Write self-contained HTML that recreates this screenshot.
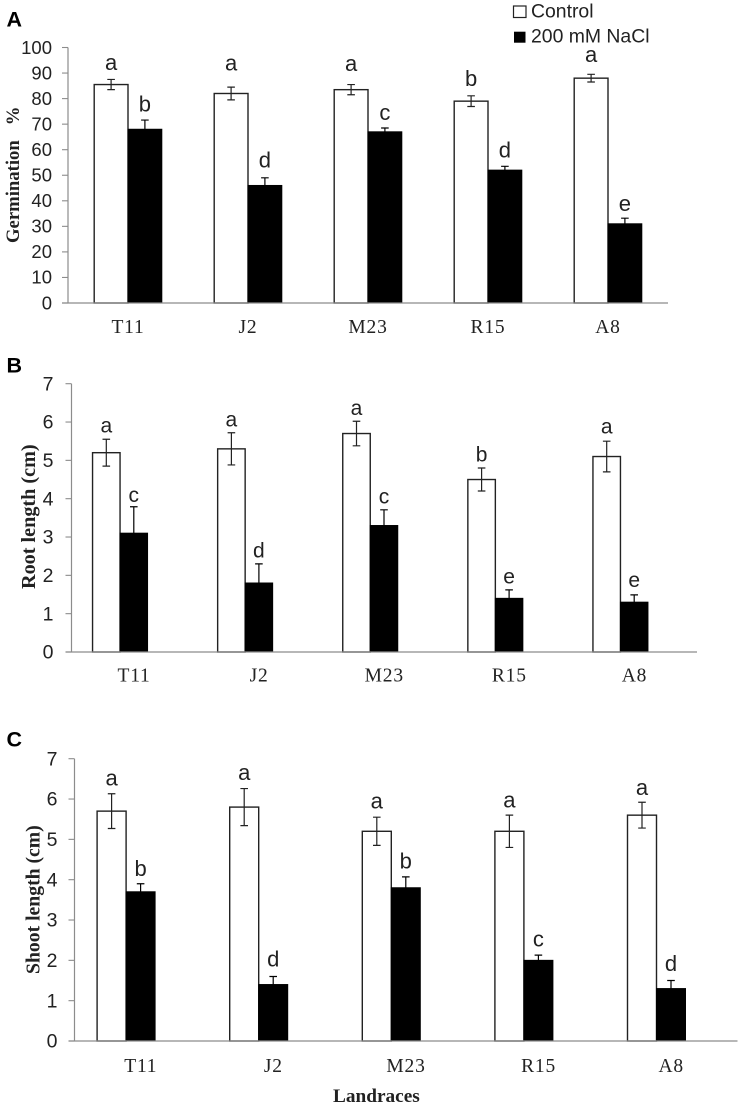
<!DOCTYPE html>
<html lang="en">
<head>
<meta charset="utf-8">
<title>Germination, root length and shoot length by landrace</title>
<style>
  html, body { margin: 0; padding: 0; background: #fff; }
  #figure { display: block; width: 743px; height: 1109px; filter: blur(0.3px); }
  .tick { font-family: "Liberation Sans", sans-serif; fill: #222; }
  .cat { font-family: "Liberation Serif", serif; fill: #222; text-anchor: middle; letter-spacing: .8px; }
  .title { font-family: "Liberation Serif", serif; font-weight: bold; fill: #222; }
  .letter { font-family: "Liberation Sans", sans-serif; fill: #222; text-anchor: middle; }
  .panel { font-family: "Liberation Sans", sans-serif; font-weight: bold; font-size: 21.5px; fill: #000; }
  .legend { font-family: "Liberation Sans", sans-serif; font-size: 19.4px; fill: #222; }
</style>
</head>
<body>
<svg id="figure" xmlns="http://www.w3.org/2000/svg" width="743" height="1109" viewBox="0 0 743 1109">
  <rect width="743" height="1109" fill="#fff"/>

  <text class="panel" x="6.5" y="26.7">A</text>
  <text class="panel" x="6.5" y="372.7">B</text>
  <text class="panel" x="6.5" y="746.7">C</text>

  <g>
    <rect x="513.5" y="6" width="12.5" height="11.5" fill="#fff" stroke="#222" stroke-width="1.2"/>
    <text class="legend" x="531" y="17.7">Control</text>
    <rect x="514" y="31.7" width="11.5" height="11" fill="#000"/>
    <text class="legend" x="531" y="42.7">200 mM NaCl</text>
  </g>

  <text class="title" font-size="18.7" transform="translate(19,243) rotate(-90)">Germination<tspan dx="15">%</tspan></text>
  <text class="title" font-size="20.2" transform="translate(35,589) rotate(-90)">Root length (cm)</text>
  <text class="title" font-size="19.7" transform="translate(39.5,974) rotate(-90)">Shoot length (cm)</text>
  <text class="title" font-size="19.3" x="333" y="1102">Landraces</text>

  <g id="charts"></g>
</svg>

<script>
// Shared categories
const categories = ["T11", "J2", "M23", "R15", "A8"];

// Panel A: germination %
const ticksA = [0, 10, 20, 30, 40, 50, 60, 70, 80, 90, 100];
const controlA = [85.5, 82, 83.5, 79, 88];
const controlErrA = [2, 2.5, 2, 2.1, 1.5];
const naclA = [68, 46, 67, 52, 31];
const naclErrA = [3.6, 3, 1.5, 1.5, 2.2];
const controlLettersA = ["a", "a", "a", "b", "a"];
const naclLettersA = ["b", "d", "c", "d", "e"];
const controlLetterLevelA = [91.2, 91, 90.8, 84.9, 94.3];
const naclLetterLevelA = [74.9, 53, 71.6, 56.9, 36.1];

// Panel B: root length (cm)
const ticksB = [0, 1, 2, 3, 4, 5, 6, 7];
const controlB = [5.2, 5.3, 5.7, 4.5, 5.1];
const controlErrB = [0.35, 0.42, 0.32, 0.3, 0.4];
const naclB = [3.1, 1.8, 3.3, 1.4, 1.3];
const naclErrB = [0.69, 0.5, 0.41, 0.22, 0.19];
const controlLettersB = ["a", "a", "a", "b", "a"];
const naclLettersB = ["c", "d", "c", "e", "e"];
const controlLetterLevelB = [5.73, 5.88, 6.18, 4.97, 5.7];
const naclLetterLevelB = [3.91, 2.47, 3.88, 1.79, 1.7];

// Panel C: shoot length (cm)
const ticksC = [0, 1, 2, 3, 4, 5, 6, 7];
const controlC = [5.7, 5.8, 5.2, 5.2, 5.6];
const controlErrC = [0.43, 0.46, 0.35, 0.4, 0.32];
const naclC = [3.7, 1.4, 3.8, 2.0, 1.3];
const naclErrC = [0.2, 0.2, 0.27, 0.13, 0.2];
const controlLettersC = ["a", "a", "a", "a", "a"];
const naclLettersC = ["b", "d", "b", "c", "d"];
const controlLetterLevelC = [6.34, 6.47, 5.76, 5.79, 6.1];
const naclLetterLevelC = [4.09, 1.85, 4.28, 2.34, 1.74];

const SVG_NS = "http://www.w3.org/2000/svg";
const root = document.getElementById("charts");

function make(tag, props, parent) {
  const el = document.createElementNS(SVG_NS, tag);
  for (const k in props) el.setAttribute(k, props[k]);
  parent.appendChild(el);
  return el;
}

function drawPanel(p) {
  const group = make("g", {}, root);
  
  

  const yMax = p.ticks[p.ticks.length - 1];
  const yScale = v => p.y0 - (v / yMax) * (p.y0 - p.yTop);
  const bandW = (p.xEnd - p.x0) / p.categories.length;
  const bandCenter = i => p.x0 + (i + 0.5) * bandW;
  const splitX = i => bandCenter(i) + p.barShift;

  // Bars and error bars
  p.categories.forEach((cat, i) => {
    const key = cat.toLowerCase() + '-' + p.id;

    const ctrl = make("rect", {
      x: splitX(i) - p.barW, y: yScale(p.control[i]),
      width: p.barW, height: p.y0 - yScale(p.control[i]),
      fill: "#fff", stroke: "#222", "stroke-width": 1.4
    }, group);
    
    

    const salt = make("rect", {
      x: splitX(i), y: yScale(p.nacl[i]),
      width: p.barW, height: p.y0 - yScale(p.nacl[i]),
      fill: "#000", stroke: "#000", "stroke-width": 1
    }, group);
    
    

    const series = [
      { name: 'control', cx: splitX(i) - p.barW / 2, v: p.control[i], e: p.controlErr[i], l: p.controlLetters[i], lv: p.controlLevel[i] },
      { name: 'nacl', cx: splitX(i) + p.barW / 2, v: p.nacl[i], e: p.naclErr[i], l: p.naclLetters[i], lv: p.naclLevel[i] }
    ];
    series.forEach(s => {
      const top = yScale(s.v + s.e), bot = yScale(s.v - s.e);
      const err = make("path", {
        d: "M" + (s.cx - 3.8) + " " + top + "H" + (s.cx + 3.8) +
           "M" + s.cx + " " + top + "V" + bot +
           "M" + (s.cx - 3.8) + " " + bot + "H" + (s.cx + 3.8),
        fill: "none", stroke: s.name === 'nacl' ? "#000" : "#222", "stroke-width": 1.2
      }, group);
      
      

      const letter = make("text", {
        class: "letter", x: s.cx, y: yScale(s.lv), "font-size": p.letterSize
      }, group);
      letter.textContent = s.l;
      
      
    });

    const label = make("text", {
      class: "cat", x: bandCenter(i), y: p.catY, "font-size": p.catSize
    }, group);
    label.textContent = cat;
    
    
  });

  // Axes
  const yAxis = make("line", {
    x1: p.x0, x2: p.x0, y1: yScale(yMax), y2: p.y0, stroke: "#8c8c8c", "stroke-width": 1.2
  }, group);
  
  

  const xAxis = make("line", {
    x1: p.x0 - 6, x2: p.xEnd, y1: p.y0, y2: p.y0, stroke: "#8c8c8c", "stroke-width": 1.2
  }, group);
  
  

  p.ticks.forEach(t => {
    const tick = make("line", {
      x1: p.x0 - 6, x2: p.x0, y1: yScale(t), y2: yScale(t), stroke: "#8c8c8c", "stroke-width": 1.1
    }, group);
    
    

    const tl = make("text", {
      class: "tick", x: p.tickX, y: yScale(t) + p.tickSize * 0.34,
      "text-anchor": "end", "font-size": p.tickSize
    }, group);
    tl.textContent = t;
    
    
  });
}

drawPanel({
  id: 'germination', categories, ticks: ticksA,
  control: controlA, controlErr: controlErrA, nacl: naclA, naclErr: naclErrA,
  controlLetters: controlLettersA, naclLetters: naclLettersA,
  controlLevel: controlLetterLevelA, naclLevel: naclLetterLevelA,
  x0: 68, xEnd: 668, y0: 303, yTop: 47.5, barW: 33.8, barShift: 0,
  tickX: 52, tickSize: 18.5, catY: 333, catSize: 19.5, letterSize: 22
});
drawPanel({
  id: 'root-length', categories, ticks: ticksB,
  control: controlB, controlErr: controlErrB, nacl: naclB, naclErr: naclErrB,
  controlLetters: controlLettersB, naclLetters: naclLettersB,
  controlLevel: controlLetterLevelB, naclLevel: naclLetterLevelB,
  x0: 71.5, xEnd: 697, y0: 652, yTop: 383.7, barW: 27.5, barShift: -14,
  tickX: 53.5, tickSize: 19.5, catY: 681.7, catSize: 19.5, letterSize: 21
});
drawPanel({
  id: 'shoot-length', categories, ticks: ticksC,
  control: controlC, controlErr: controlErrC, nacl: naclC, naclErr: naclErrC,
  controlLetters: controlLettersC, naclLetters: naclLettersC,
  controlLevel: controlLetterLevelC, naclLevel: naclLetterLevelC,
  x0: 74.5, xEnd: 737.5, y0: 1041, yTop: 758.7, barW: 29, barShift: -14.7,
  tickX: 57.5, tickSize: 19.5, catY: 1072, catSize: 19.5, letterSize: 22
});
</script>
</body>
</html>
